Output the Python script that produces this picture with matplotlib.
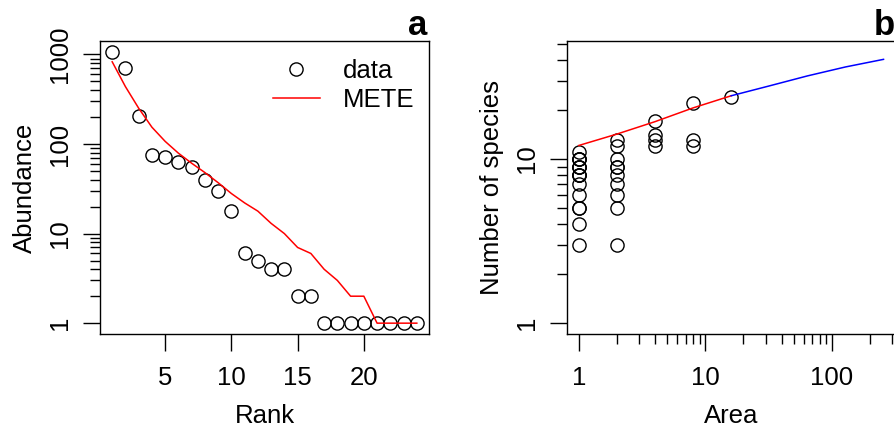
import numpy as np
from matplotlib import pyplot as plt
from matplotlib.ticker import FixedLocator, NullFormatter

plt.rcParams['font.family'] = ['Liberation Sans', 'DejaVu Sans']

# panel a: rank abundance
rank = np.arange(1, 25)
abund = [1069, 699, 203, 76, 71, 63, 56, 40, 30, 18, 6, 5, 4, 4, 2, 2,
         1, 1, 1, 1, 1, 1, 1, 1]
mete_abund = [828, 437, 251, 154, 107, 79, 61, 48, 37, 28, 22, 17.8, 13, 10,
              7, 6, 4, 3, 2, 2, 1, 1, 1, 1]

# panel b: species area
area_pts = [1] * 16 + [2] * 10 + [4] * 4 + [8] * 3 + [16]
sp_pts = [11, 10, 10, 10, 9, 9, 9, 8, 8, 8, 7, 6, 5, 5, 4, 3,
          13, 12, 10, 9, 9, 8, 7, 6, 5, 3,
          17, 14, 13, 12,
          22, 13, 12,
          24]
area_down = [1, 2, 4, 8, 16]
sar_down = [12.1, 14.2, 16.9, 20.5, 24.3]
area_up = [16, 32, 64, 128, 256]
sar_up = [24.3, 27.9, 32.1, 36.4, 40.5]

FS = 18.5
fig = plt.figure(figsize=(8.94, 4.30), dpi=100)


def style_axis(ax):
    for s in ax.spines.values():
        s.set_linewidth(1.0)
    ax.tick_params(which='major', length=12, width=1.0, labelsize=FS)
    ax.tick_params(which='minor', length=7, width=1.0)
    ax.tick_params(axis='x', which='major', pad=11)
    ax.tick_params(axis='y', which='major', pad=8)
    for lab in ax.get_yticklabels():
        lab.set_rotation(90)
        lab.set_va('center')


# ---- a ----
ax1 = fig.add_axes([100 / 894, 1 - 334 / 430, 329 / 894, 293 / 430])
ax1.plot(rank, abund, 'o', mfc='none', mec='black', ms=9.5, mew=1.0, label='data')
ax1.plot(rank, mete_abund, '-', color='red', lw=1.1, label='METE')
ax1.set_yscale('log')
ax1.set_xlim(0.08, 24.92)
ax1.set_ylim(10 ** -0.121, 10 ** 3.15)
ax1.set_xticks([5, 10, 15, 20])
ax1.set_yticks([1, 10, 100, 1000])
ax1.set_yticklabels(['1', '10', '100', '1000'])
ax1.yaxis.set_minor_locator(FixedLocator([m * 10 ** d for d in range(3) for m in range(2, 10)]))
ax1.yaxis.set_minor_formatter(NullFormatter())
ax1.set_xlabel('Rank', fontsize=FS, labelpad=10)
ax1.set_ylabel('Abundance', fontsize=FS, labelpad=8)
style_axis(ax1)
ax1.legend(loc='upper right', bbox_to_anchor=(0.957, 0.94), frameon=False,
           fontsize=FS, handlelength=1.85, handletextpad=0.9, labelspacing=0.2,
           borderpad=0, borderaxespad=0, numpoints=1)
fig.text(427 / 894, 1 - 35 / 430, 'a', ha='right', va='baseline',
         fontsize=25, fontweight='bold')

# ---- b ----
ax2 = fig.add_axes([566.7 / 894, 1 - 334 / 430, 329 / 894, 293 / 430])
ax2.plot(area_pts, sp_pts, 'o', mfc='none', mec='black', ms=9.5, mew=1.0)
ax2.plot(area_down, sar_down, '-', color='red', lw=1.1)
ax2.plot(area_up, sar_up, '-', color='blue', lw=1.1)
ax2.set_xscale('log')
ax2.set_yscale('log')
ax2.set_xlim(10 ** -0.0963, 10 ** 2.5045)
ax2.set_ylim(10 ** -0.0661, 10 ** 1.7193)
ax2.set_xticks([1, 10, 100])
ax2.set_xticklabels(['1', '10', '100'])
ax2.set_yticks([1, 10])
ax2.set_yticklabels(['1', '10'])
ax2.xaxis.set_minor_locator(FixedLocator([m * 10 ** d for d in range(3) for m in range(2, 10)]))
ax2.yaxis.set_minor_locator(FixedLocator([m * 10 ** d for d in range(2) for m in range(2, 10)]))
ax2.xaxis.set_minor_formatter(NullFormatter())
ax2.yaxis.set_minor_formatter(NullFormatter())
ax2.set_xlabel('Area', fontsize=FS, labelpad=10)
ax2.set_ylabel('Number of species', fontsize=FS, labelpad=8)
style_axis(ax2)
fig.text(895 / 894, 1 - 35 / 430, 'b', ha='right', va='baseline',
         fontsize=25, fontweight='bold')

fig.savefig('out.png', dpi=100)
